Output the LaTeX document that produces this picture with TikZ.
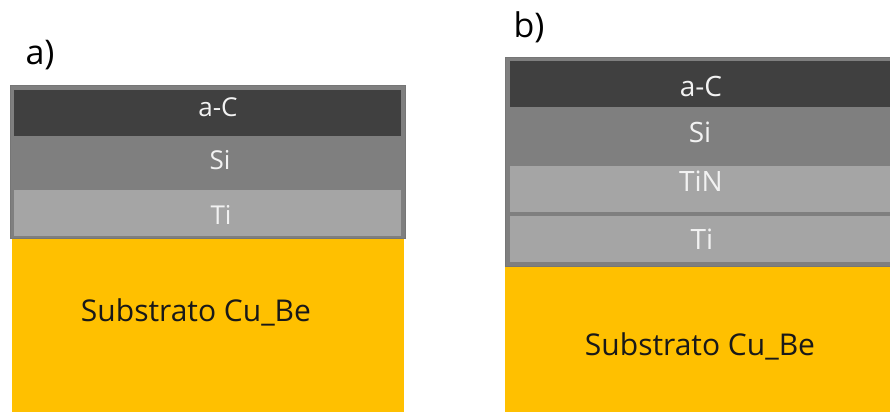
\documentclass[tikz,border=0pt]{standalone}
\usepackage{fontspec}
\setmainfont{Open Sans}
\begin{document}
\begin{tikzpicture}[
    x=1pt,
    y=1pt,
    stack frame/.style={fill=layerSilicon, draw=frameEdge, line width=0.8pt},
    layer label/.style={font=\fontsize{26}{26}\selectfont, text=labelWhite, inner sep=0pt, anchor=base},
    wide layer label/.style={layer label, font=\fontsize{28}{28}\selectfont},
    substrate label/.style={font=\fontsize{30}{30}\selectfont, text=black!90, inner sep=0pt, anchor=base},
    panel label/.style={font=\fontsize{34}{34}\selectfont, text=black, inner sep=0pt, anchor=base}
]

\definecolor{layerCarbon}{RGB}{64,64,64}
\definecolor{layerSilicon}{RGB}{127,127,127}
\definecolor{layerTitanium}{RGB}{165,165,165}
\definecolor{substrateGold}{RGB}{255,192,0}
\definecolor{frameEdge}{RGB}{118,118,118}
\definecolor{labelWhite}{RGB}{242,242,242}

% Page frame; the right stack runs off the edge.
\useasboundingbox (0,0) rectangle (890,412);
\clip (0,0) rectangle (890,412);

% Panel a: a-C / Si / Ti on the substrate.
\fill[substrateGold] (12,0) rectangle (404,173);
\draw[stack frame] (10,173.5) rectangle (405,327);
\fill[layerCarbon] (14,276) rectangle (401,322);
\fill[layerTitanium] (14,176) rectangle (401,222);

% Panel b: a-C / Si / TiN / Ti on the substrate.
\fill[substrateGold] (505,0) rectangle (900,146);
\draw[stack frame] (505.7,146) rectangle (900,354.7);
\fill[layerCarbon] (510,305) rectangle (900,351);
\fill[layerTitanium] (510,200) rectangle (900,246);
\fill[layerTitanium] (510,150) rectangle (900,196);

% Panel labels.
\node[panel label] (panelA) at (40,347) {a)};
\node[panel label] (panelB) at (529,374) {b)};

% Layer names, panel a.
\node[layer label] (carbonA) at (218,295) {a-C};
\node[layer label] (siliconA) at (220,242) {Si};
\node[layer label] (titaniumA) at (221,187) {Ti};
\node[substrate label] (substrateA) at (196,90.5) {Substrato Cu\_Be};

% Layer names, panel b.
\node[wide layer label] (carbonB) at (701,315.5) {a-C};
\node[wide layer label] (siliconB) at (700,269.3) {Si};
\node[wide layer label] (nitrideB) at (701,220.3) {TiN};
\node[wide layer label] (titaniumB) at (702,162) {Ti};
\node[substrate label] (substrateB) at (700,57) {Substrato Cu\_Be};

\end{tikzpicture}
\end{document}
